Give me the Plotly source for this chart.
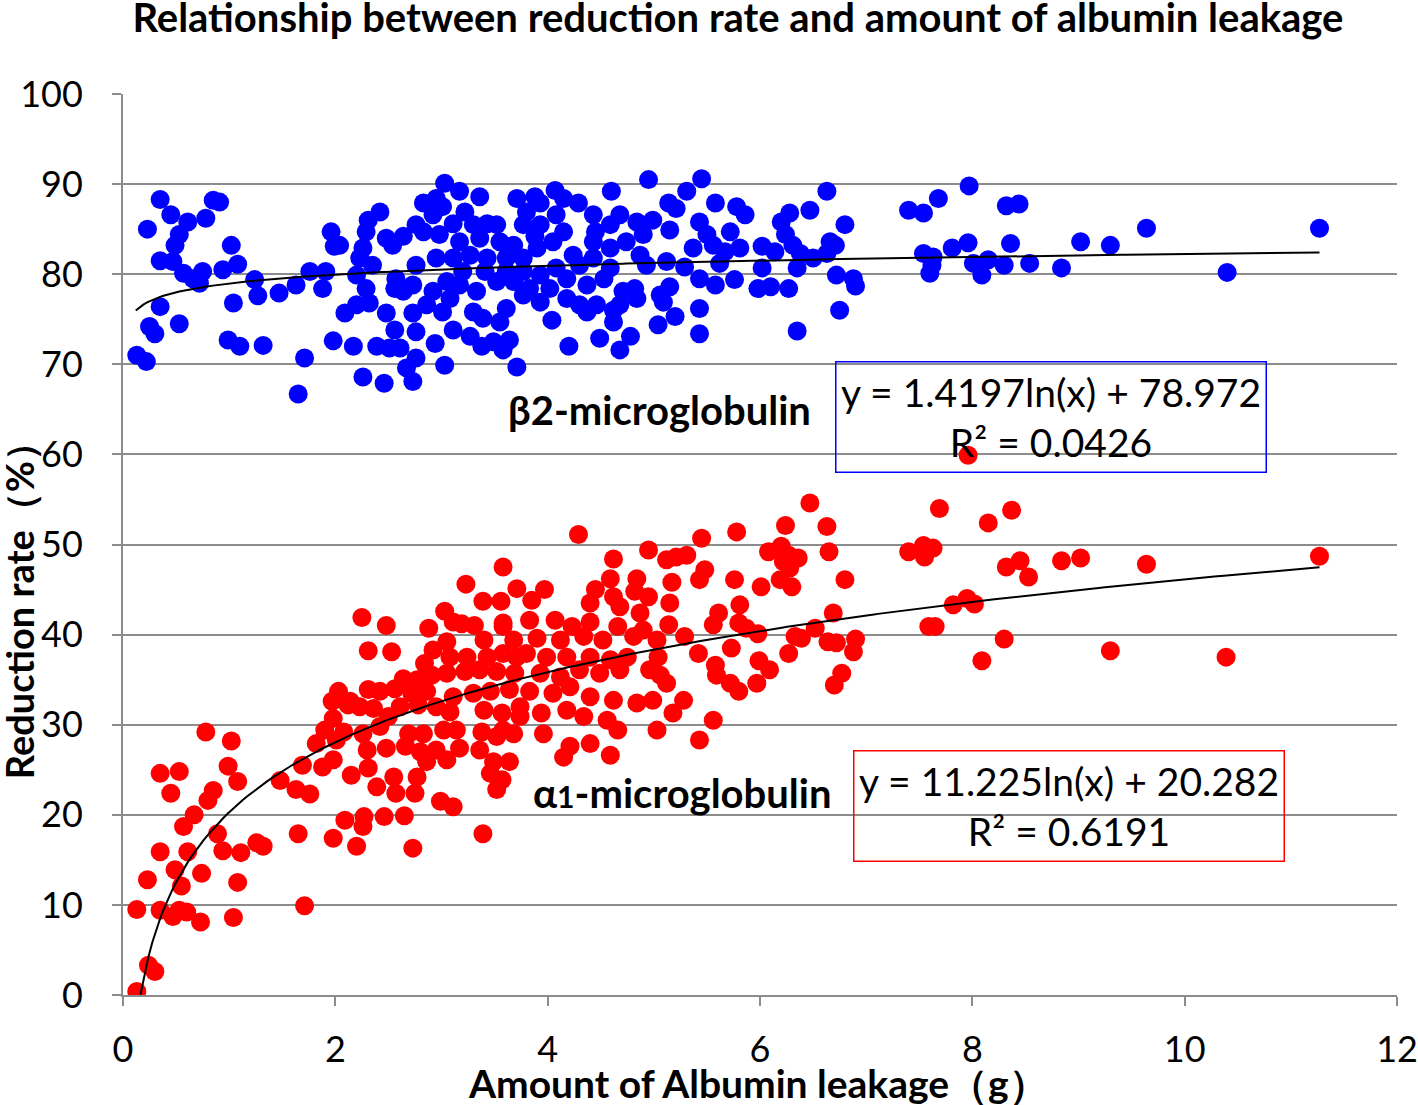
import numpy as np
import plotly.graph_objects as go

# beta2-microglobulin (blue) : albumin leakage (g) vs reduction rate (%)
b2_x = [0.35, 0.45, 0.23, 0.61, 0.53, 0.49, 0.85, 0.91, 0.78, 1.02, 0.35, 0.47, 0.57, 0.66, 0.75, 0.72,
        0.94, 1.08, 1.24, 1.27, 1.47, 0.35, 1.04, 0.25, 0.30, 0.53, 0.13, 0.22, 0.99, 1.10, 1.32, 1.71,
        1.65, 1.76, 1.63, 1.88, 1.91, 1.96, 1.99, 2.04, 2.09, 1.98, 2.17, 2.26, 2.46, 2.42, 2.31, 2.29,
        2.26, 2.23, 2.35, 2.20, 2.29, 2.20, 2.32, 2.48, 2.56, 2.39, 2.51, 2.61, 2.67, 2.73, 2.76, 2.73,
        2.76, 2.94, 3.03, 2.57, 2.56, 2.54, 2.64, 2.48, 2.76, 2.83, 2.95, 3.03, 3.01, 2.92, 2.83, 2.98,
        2.95, 2.76, 2.73, 2.92, 2.86, 3.01, 3.05, 2.64,
        3.17, 3.36, 3.22, 3.11, 3.30, 3.43, 3.52, 3.17, 3.36, 3.55, 3.68, 3.71, 3.88, 3.93, 4.07, 4.15,
        4.29, 4.43, 4.60, 4.95, 5.31, 5.45, 5.14, 5.21, 5.58, 5.78, 5.86, 5.72, 5.43, 5.50, 5.15, 4.99,
        4.84, 4.68, 4.59, 4.45, 4.43, 4.59, 4.74, 4.90, 4.87, 4.93, 5.12, 5.29, 5.37, 5.56, 5.67, 5.81,
        6.02, 5.62, 5.76, 5.43, 5.58, 5.98, 5.15, 5.06, 5.09, 4.82, 4.71, 4.68, 4.84, 5.43, 5.20, 5.04,
        5.43, 4.78, 4.68, 4.49, 4.62, 4.62, 4.46, 4.37, 4.20, 4.04, 3.71, 3.64, 3.58, 3.49, 3.38, 3.27,
        3.11, 3.55, 3.39, 3.30, 3.61, 3.93, 3.77, 4.18, 4.30, 4.02, 4.18, 4.37, 4.53, 4.59, 3.08, 3.17,
        3.33, 3.52, 3.68, 3.83, 3.93, 4.08, 4.30, 4.43, 3.11, 3.27, 3.43, 3.61, 3.77, 3.90, 4.05, 4.15,
        4.24, 3.80, 3.77, 3.93, 4.08, 3.88, 3.41, 3.20, 3.77, 3.61,
        6.63, 6.47, 6.28, 6.20, 6.24, 6.14, 6.31, 6.38, 6.50, 6.66, 6.71, 6.80, 6.63, 6.35, 6.02, 6.10,
        6.27, 6.72, 6.88, 6.90, 6.75, 6.35, 7.40, 7.54, 7.68, 7.97, 8.32, 8.44, 7.54, 7.63, 7.62, 7.60,
        7.81, 7.96, 8.01, 8.09, 8.15, 8.30, 8.36, 8.54, 8.84, 9.02, 9.30, 9.64, 10.40, 11.27]
b2_y = [88.3, 86.6, 85.0, 85.8, 84.4, 83.2, 88.2, 88.0, 86.2, 83.2, 81.5, 81.4, 80.1, 79.5, 80.3, 79.0,
        80.5, 81.1, 79.4, 77.6, 77.9, 76.4, 76.8, 74.2, 73.4, 74.5, 71.0, 70.3, 72.7, 72.0, 72.1, 70.7,
        66.7, 80.3, 78.8, 78.4, 80.3, 84.7, 83.1, 83.2, 75.7, 72.6, 72.0, 68.6, 67.9, 86.9, 86.0, 84.7,
        82.9, 81.8, 81.0, 79.9, 78.4, 76.6, 76.8, 75.7, 73.8, 72.0, 71.8, 71.8, 69.6, 68.1, 70.7, 75.7,
        73.6, 72.3, 69.9, 79.5, 78.4, 83.2, 84.2, 84.0, 85.5, 87.9, 88.4, 90.1, 87.5, 86.6, 84.7, 84.4,
        81.8, 81.0, 78.8, 78.1, 76.6, 75.8, 79.2, 78.1,
        89.2, 88.6, 86.9, 85.6, 85.5, 85.6, 85.5, 83.6, 84.0, 83.6, 83.2, 88.4, 88.6, 87.9, 89.3, 88.4,
        87.9, 86.6, 89.2, 90.5, 89.2, 90.6, 87.9, 87.3, 87.9, 87.5, 86.6, 84.7, 85.8, 84.4, 84.9, 86.0,
        85.8, 86.6, 85.5, 84.7, 83.6, 82.9, 83.6, 84.4, 82.1, 81.0, 81.4, 80.8, 82.9, 83.2, 82.5, 82.9,
        83.1, 81.2, 79.4, 79.5, 78.8, 78.4, 78.6, 77.7, 76.9, 78.4, 78.1, 76.6, 77.3, 76.2, 75.3, 74.4,
        73.4, 73.1, 71.6, 72.9, 74.7, 76.0, 76.6, 75.8, 72.0, 74.9, 69.7, 72.7, 71.6, 72.5, 72.0, 73.1,
        73.8, 74.7, 75.1, 75.8, 76.2, 76.9, 77.7, 77.3, 76.6, 78.4, 79.5, 78.8, 79.5, 80.7, 77.3, 78.8,
        78.1, 79.2, 79.2, 78.4, 79.9, 80.7, 81.0, 81.8, 81.8, 82.1, 81.8, 81.8, 81.8, 82.9, 83.6, 84.7,
        82.1, 86.9, 85.5, 85.5, 86.6, 84.2, 80.3, 80.3, 80.3, 80.3,
        89.2, 87.1, 86.8, 85.8, 84.4, 82.5, 83.2, 82.3, 81.8, 83.6, 83.2, 85.5, 82.3, 80.7, 80.7, 78.6,
        78.4, 79.9, 79.5, 78.7, 76.0, 73.7, 87.1, 86.8, 88.4, 89.8, 87.6, 87.8, 82.3, 81.9, 81.0, 80.1,
        82.9, 83.5, 81.2, 79.9, 81.6, 81.0, 83.4, 81.2, 80.7, 83.6, 83.2, 85.1, 80.2, 85.1]

# alpha1-microglobulin (red)
a1_x = [0.13, 0.24, 0.30, 0.13, 0.35, 0.47, 0.60, 0.73, 0.53, 1.04, 0.23, 0.55, 0.49, 0.74, 1.08, 0.35,
        0.61, 0.94, 1.11, 1.26, 1.32, 0.57, 0.67, 0.89, 0.80, 0.85, 0.45, 0.35, 0.53, 0.99, 1.08, 0.78,
        1.02, 1.48, 1.71, 1.63, 1.76, 2.09, 2.27, 2.26, 2.46, 2.65, 1.69, 1.88, 1.98,
        3.58, 3.23, 3.71, 3.39, 3.56, 2.25, 2.48, 2.88, 3.03, 3.11, 3.19, 3.31, 3.58, 2.31, 2.53, 3.05,
        3.40, 2.92, 2.84, 3.08, 3.24, 3.43, 3.58, 3.71, 2.64, 2.77, 2.91, 3.05, 3.22, 3.36, 3.52, 3.69,
        2.03, 1.97, 2.14, 2.31, 2.42, 2.56, 2.72, 2.86, 3.11, 3.30, 3.46, 3.64, 1.98, 2.12, 2.23, 2.36,
        2.50, 2.61, 2.78, 2.95, 3.08, 3.40, 3.57, 3.74, 1.90, 2.08, 2.26, 2.42, 2.69, 2.83, 3.02, 3.14,
        3.38, 3.52, 3.68, 1.82, 2.01, 2.30, 2.48, 2.66, 2.80, 2.95, 3.17, 3.36, 3.49, 3.64, 2.86, 3.05,
        3.46, 3.52, 2.77, 2.75, 2.55, 2.57, 2.39, 2.15, 2.31, 2.99, 3.11, 3.39, 2.73, 2.20, 1.98, 1.65,
        4.29, 4.95, 5.12, 5.21, 5.31, 5.45, 5.78, 5.48, 5.43, 5.76, 4.62, 4.59, 4.84, 5.17, 3.97, 3.85,
        4.45, 4.40, 4.62, 4.82, 4.95, 5.15, 5.81, 4.87, 4.68, 3.58, 3.83, 4.07, 4.23, 4.40, 4.66, 4.90,
        5.14, 5.61, 5.56, 5.80, 3.68, 3.90, 4.12, 4.34, 4.52, 4.81, 5.03, 5.29, 5.42, 5.73, 3.80, 3.99,
        4.18, 4.40, 4.59, 4.75, 5.04, 5.58, 5.59, 5.72, 5.80, 3.93, 4.12, 4.30, 4.49, 4.68, 4.96, 5.06,
        5.12, 3.83, 4.05, 4.21, 4.40, 4.62, 4.84, 4.99, 5.28, 5.18, 3.74, 3.94, 4.18, 4.34, 4.56, 4.66,
        5.03, 5.56, 3.58, 3.96, 4.21, 4.40, 5.43, 4.15, 4.59, 3.57,
        6.47, 6.24, 6.63, 6.08, 6.20, 6.27, 6.36, 6.22, 6.28, 6.65, 6.80, 6.19, 6.30, 6.01, 6.69, 5.87,
        5.98, 6.52, 6.33, 6.39, 6.64, 6.72, 6.90, 6.88, 6.27, 5.99, 6.09, 6.77, 6.70, 5.97, 7.40, 7.54,
        7.63, 7.55, 7.69, 8.15, 8.37, 8.32, 8.45, 8.53, 7.82, 7.95, 8.02, 7.59, 7.65, 8.30, 8.09, 8.84,
        9.02, 9.64, 11.27, 9.30, 10.39, 7.96]
a1_y = [0.4, 3.3, 2.6, 9.5, 9.4, 8.7, 9.2, 8.1, 9.4, 8.6, 12.8, 12.1, 13.9, 13.5, 12.5, 15.9,
        15.9, 16.0, 15.8, 16.9, 16.5, 18.7, 20.0, 17.9, 21.6, 22.7, 22.4, 24.6, 24.8, 25.4, 23.7, 29.2,
        28.2, 23.8, 9.9, 22.8, 22.3, 19.4, 19.8, 18.7, 19.8, 19.9, 25.5, 25.3, 26.1,
        47.5, 45.6, 45.1, 43.7, 43.7, 41.9, 41.0, 40.7, 42.6, 41.4, 41.2, 41.0, 40.9, 38.2, 38.1, 39.2,
        39.4, 38.3, 36.8, 37.5, 37.5, 37.5, 37.9, 37.5, 35.1, 35.0, 35.5, 35.7, 35.9, 36.1, 35.9, 35.7,
        33.7, 32.6, 32.6, 33.9, 33.7, 34.0, 33.5, 33.7, 33.1, 33.5, 33.7, 33.9, 30.7, 32.2, 32.0, 31.8,
        30.9, 32.0, 32.2, 32.0, 31.4, 31.6, 31.3, 30.9, 29.4, 29.2, 29.0, 29.8, 29.0, 29.0, 29.4, 29.4,
        29.2, 28.7, 29.0, 27.9, 28.3, 27.2, 27.4, 27.6, 27.0, 27.2, 27.4, 27.2, 25.9, 25.9, 25.9, 26.1,
        24.6, 22.8, 24.2, 22.4, 24.2, 22.4, 23.1, 24.4, 25.2, 21.5, 20.9, 17.9, 16.3, 16.5, 17.4, 17.9,
        51.1, 49.4, 48.3, 48.6, 48.8, 50.7, 51.4, 47.2, 46.1, 46.1, 48.4, 46.2, 46.2, 45.8, 45.0, 43.8,
        45.0, 43.5, 44.2, 44.8, 44.2, 43.5, 43.3, 42.4, 43.1, 41.3, 41.6, 41.6, 40.9, 41.4, 40.9, 40.5,
        41.1, 42.4, 41.1, 41.3, 39.4, 39.6, 39.4, 39.8, 39.4, 39.8, 39.4, 39.8, 37.9, 38.5, 37.9, 37.5,
        37.5, 37.5, 37.2, 37.5, 37.5, 36.6, 35.5, 34.6, 33.7, 35.7, 35.3, 36.1, 35.7, 36.1, 36.1, 35.5,
        34.6, 33.7, 33.5, 34.2, 33.1, 32.7, 32.4, 32.7, 32.7, 31.3, 32.0, 31.3, 31.6, 30.9, 30.5, 29.4,
        29.4, 30.5, 29.4, 29.0, 27.6, 27.9, 28.3, 26.4, 26.6, 23.9,
        54.6, 52.1, 52.0, 49.2, 49.8, 48.8, 48.5, 48.1, 47.4, 49.2, 46.1, 46.1, 45.3, 45.3, 42.4, 40.7,
        40.1, 40.7, 39.8, 39.6, 39.2, 39.1, 39.5, 38.1, 37.9, 37.1, 36.1, 35.7, 34.4, 34.6, 49.2, 49.9,
        49.6, 48.6, 54.0, 52.4, 53.8, 47.5, 48.2, 46.4, 43.3, 44.0, 43.4, 40.9, 40.9, 39.5, 37.1, 48.2,
        48.5, 47.8, 48.7, 38.2, 37.5, 59.9]

# logarithmic trend lines as printed on the chart
b2_fit = (1.4197, 78.972)
a1_fit = (11.225, 20.282)
b2_fit_x = np.linspace(0.12, 11.27, 300)
a1_fit_x = np.linspace(0.165, 11.27, 300)

FONT = "Lato"
GRID = "#8c8c8c"

fig = go.Figure()
fig.add_trace(go.Scatter(x=b2_x, y=b2_y, mode="markers",
                         marker=dict(color="#0000ff", size=19, line=dict(width=0))))
fig.add_trace(go.Scatter(x=a1_x, y=a1_y, mode="markers",
                         marker=dict(color="#ff0000", size=19, line=dict(width=0))))
fig.add_trace(go.Scatter(x=b2_fit_x, y=b2_fit[0] * np.log(b2_fit_x) + b2_fit[1], mode="lines",
                         line=dict(color="black", width=2)))
fig.add_trace(go.Scatter(x=a1_fit_x, y=a1_fit[0] * np.log(a1_fit_x) + a1_fit[1], mode="lines",
                         line=dict(color="black", width=2)))

fig.update_layout(
    width=1418, height=1105,
    margin=dict(l=123, r=21, t=94, b=110),
    paper_bgcolor="white", plot_bgcolor="white",
    showlegend=False,
    font=dict(family=FONT, color="black"),
    title=dict(text="<b>Relationship between reduction rate and amount of albumin leakage</b>",
               x=0.4827, xref="paper", xanchor="center", y=0.984, yanchor="middle",
               font=dict(size=40, family=FONT, color="black")),
    xaxis=dict(range=[0, 12], dtick=2, showgrid=False, zeroline=False, automargin=False,
               showline=True, linecolor=GRID, linewidth=2,
               ticks="outside", ticklen=9, tickwidth=2, tickcolor=GRID,
               ticklabelstandoff=13, tickfont=dict(size=36, family=FONT)),
    yaxis=dict(range=[0, 100], dtick=10, showgrid=True, gridcolor=GRID, gridwidth=2,
               zeroline=False, automargin=False, showline=True, linecolor=GRID, linewidth=2,
               ticks="outside", ticklen=9, tickwidth=2, tickcolor=GRID,
               ticklabelstandoff=22, tickfont=dict(size=36, family=FONT)),
)

fig.add_annotation(text="<b>Amount of Albumin leakage（g）</b>", xref="paper", yref="paper",
                   x=0.4984, y=-0.0977, xanchor="center", yanchor="middle", showarrow=False,
                   font=dict(size=39, family=FONT))
fig.add_annotation(text="<b>Reduction rate（%）</b>", xref="paper", yref="paper",
                   x=-0.0817, y=0.437, xanchor="center", yanchor="middle", showarrow=False,
                   textangle=-90, font=dict(size=38, family=FONT))
fig.add_annotation(text="<b>β2-microglobulin</b>", x=5.05, y=64.9, showarrow=False,
                   font=dict(size=40, family=FONT))
fig.add_annotation(text="<b>α<span style='font-size:30px'>1</span>-microglobulin</b>",
                   x=5.27, y=22.4, showarrow=False, font=dict(size=40, family=FONT))
fig.add_annotation(text="y = 1.4197ln(x) + 78.972<br>R² = 0.0426", x=8.745, y=64.2,
                   showarrow=False, width=421, height=101, borderpad=4, borderwidth=1.5,
                   bordercolor="#0000ff", align="center", valign="middle",
                   font=dict(size=39, family=FONT))
fig.add_annotation(text="y = 11.225ln(x) + 20.282<br>R² = 0.6191", x=8.906, y=21.03,
                   showarrow=False, width=421, height=101, borderpad=4, borderwidth=1.5,
                   bordercolor="#ff0000", align="center", valign="middle",
                   font=dict(size=39, family=FONT))

# drop the default 8px page margin so the figure fills the window exactly
fig.write_html("out.html", config={"displayModeBar": False},
               post_script="document.body.style.margin = '0px';")
